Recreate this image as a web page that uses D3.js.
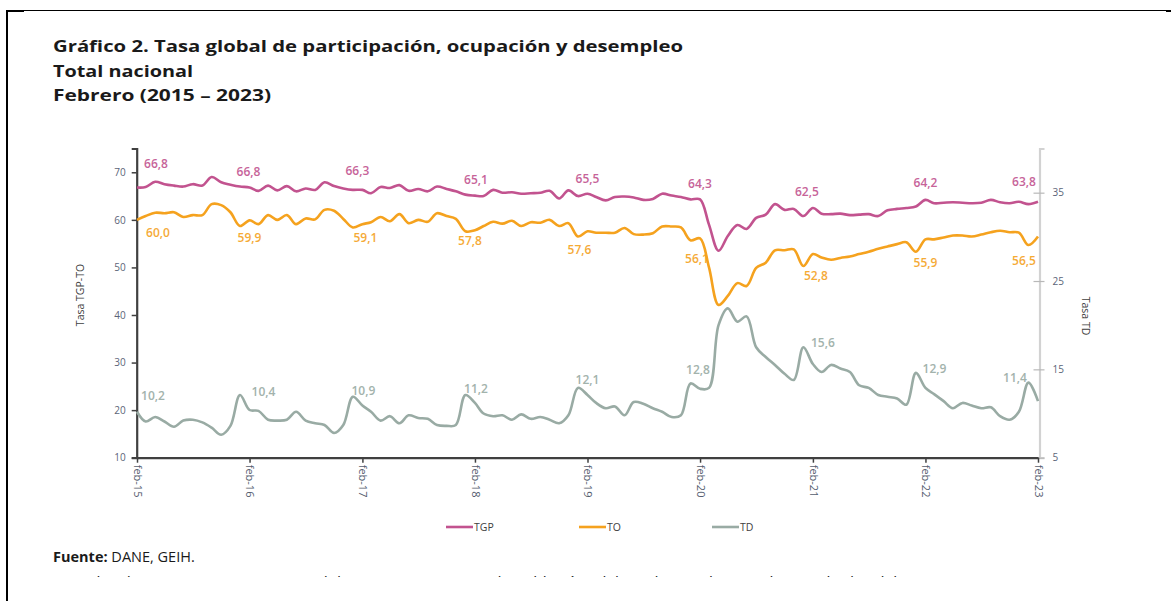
<!DOCTYPE html>
<html>
<head>
<meta charset="utf-8">
<script src="https://cdn.jsdelivr.net/npm/d3@7"></script>
<style>
  body { margin: 0; background: #fff; }
  svg text { font-family: "Open Sans", sans-serif; }
</style>
</head>
<body>
<svg id="chart" width="1171" height="601"></svg>
<script>
// Monthly series, feb-2015 .. feb-2023 (97 months)
const months = d3.timeMonth.range(new Date(2015, 1, 1), new Date(2023, 1, 2));

const tgp = [
  66.8, 66.9, 68.0, 67.5, 67.2, 67.0, 67.5, 67.2, 69.0, 67.9, 67.4, 67.0,
  66.8, 66.1, 67.2, 66.2, 67.1, 66.0, 66.6, 66.3, 67.9, 67.1, 66.6, 66.3,
  66.3, 65.6, 66.9, 66.7, 67.3, 66.1, 66.5, 66.0, 67.0, 66.5, 66.0, 65.3,
  65.1, 65.0, 66.3, 65.7, 65.8, 65.5, 65.6, 65.7, 66.1, 64.5, 66.2, 65.0,
  65.5, 64.8, 64.1, 64.8, 64.9, 64.7, 64.2, 64.4, 65.5, 65.1, 64.8, 64.3,
  64.3, 59.0, 53.5, 56.6, 58.9, 58.1, 60.4, 61.1, 63.3, 62.1, 62.3, 60.8,
  62.5, 61.3, 61.2, 61.3, 61.0, 61.1, 61.2, 60.8, 62.0, 62.3, 62.5, 62.8,
  64.2, 63.5, 63.6, 63.7, 63.6, 63.5, 63.6, 64.2, 63.7, 63.5, 63.8, 63.3,
  63.8
];

const to = [
  60.0, 60.8, 61.5, 61.4, 61.6, 60.6, 61.0, 61.0, 63.3, 63.1, 61.6, 58.7,
  59.9, 59.1, 61.0, 60.0, 61.0, 59.1, 60.3, 60.1, 62.1, 61.9, 60.2, 58.4,
  59.1, 59.5, 60.6, 59.7, 61.2, 59.3, 60.0, 59.6, 61.4, 60.8, 60.2, 57.6,
  57.8, 58.7, 59.6, 59.2, 59.8, 58.7, 59.5, 59.4, 60.0, 58.7, 59.3, 56.5,
  57.6, 57.3, 57.3, 57.3, 58.3, 57.0, 56.9, 57.2, 58.6, 58.6, 58.4, 55.7,
  56.1, 50.0, 42.1, 44.0, 46.7, 46.1, 49.9, 51.0, 53.6, 53.6, 53.8, 50.3,
  52.8, 52.1, 51.6, 52.0, 52.3, 52.8, 53.3, 53.9, 54.4, 54.9, 55.3, 53.3,
  55.9, 55.9, 56.3, 56.7, 56.7, 56.5, 56.9, 57.4, 57.7, 57.4, 57.3, 54.7,
  56.5
];

const td = [
  10.2, 9.1, 9.6, 9.1, 8.5, 9.2, 9.3, 9.0, 8.4, 7.6, 8.6, 12.1,
  10.4, 10.3, 9.3, 9.2, 9.3, 10.2, 9.2, 8.9, 8.7, 7.8, 8.7, 11.9,
  10.9, 10.2, 9.2, 9.7, 8.9, 9.8, 9.5, 9.4, 8.7, 8.6, 8.7, 12.1,
  11.2, 10.0, 9.7, 9.8, 9.3, 9.9, 9.4, 9.6, 9.3, 8.9, 9.8, 12.9,
  12.1, 11.2, 10.6, 10.8, 9.8, 11.3, 11.1, 10.6, 10.2, 9.6, 9.8, 13.4,
  12.8, 12.9, 20.0, 21.9, 20.4, 21.0, 17.5, 16.4, 15.5, 14.5, 13.8, 17.5,
  15.6, 14.7, 15.5, 15.1, 14.7, 13.2, 12.9, 12.1, 11.9, 11.7, 11.0, 14.6,
  12.9, 12.2, 11.4, 10.6, 11.2, 10.9, 10.6, 10.7, 9.7, 9.3, 10.2, 13.5,
  11.4
];

const seriesNames = ["TGP", "TO", "TD"];
const tickLabels = ["feb-15", "feb-16", "feb-17", "feb-18", "feb-19", "feb-20", "feb-21", "feb-22", "feb-23"];
const leftTicks = [10, 20, 30, 40, 50, 60, 70];
const rightTicks = [5, 15, 25, 35];

// layout / style
const colors = { TGP: "#c2538f", TO: "#f5a21e", TD: "#99aba4" };
// label nudges (dx, dy) from the february point, one per year
const nudges = {
  TGP: [[19, -20], [-1, -12], [-5, -15], [1, -12], [0, -11], [0, -11], [-6, -12], [0, -13], [-14, -16]],
  TO:  [[21, 17], [0, 22], [3, 18], [-5, 15], [-8, 23], [-3, 25], [3, 26], [0, 28], [-14, 28]],
  TD:  [[16, -12], [14, -14], [1, -11], [1, -10], [0, -11], [-2, -15], [10, -17], [9, -15], [-23, -19]]
};

const svg = d3.select("#chart");
const W = 1171, H = 601;

// frame
svg.append("line").attr("x1", 7).attr("x2", 7).attr("y1", 10).attr("y2", H).attr("stroke", "#000").attr("stroke-width", 2);
svg.append("line").attr("x1", 6).attr("x2", 1169).attr("y1", 10.5).attr("y2", 10.5).attr("stroke", "#000").attr("stroke-width", 1);
svg.append("rect").attr("x", 6).attr("y", 10).attr("width", 18).attr("height", 2).attr("fill", "#000");
svg.append("rect").attr("x", 1166).attr("y", 10).attr("width", 5).attr("height", 2).attr("fill", "#000");

// titles (widths)
const titles = ["Gráfico 2. Tasa global de participación, ocupación y desempleo", "Total nacional", "Febrero (2015 – 2023)"];
const titleWidths = [630, 140, 218];
svg.selectAll(".title").data(titles).enter().append("text")
  .attr("class", "title")
  .attr("x", 53)
  .attr("y", (d, i) => 52 + i * 24.5)
  .attr("font-size", 16)
  .attr("font-weight", "bold")
  .attr("fill", "#1a1a1a")
  .attr("textLength", (d, i) => titleWidths[i])
  .attr("lengthAdjust", "spacingAndGlyphs")
  .text(d => d);

// scales
const x = d3.scaleTime().domain([months[0], months[months.length - 1]]).range([137, 1038]);
const yL = d3.scaleLinear().domain([10, 75]).range([457.7, 148.5]);
const yR = d3.scaleLinear().domain([5, 40]).range([457.7, 148.5]);

// left axis
const gL = svg.append("g").attr("transform", "translate(136.7,0)")
  .call(d3.axisLeft(yL).tickValues(leftTicks).tickSize(5).tickPadding(6));
gL.select(".domain").attr("stroke", "#404040").attr("stroke-width", 2.2);
gL.selectAll(".tick line").attr("stroke", "#404040").attr("stroke-width", 1.5);
gL.selectAll(".tick text").attr("font-size", 10).attr("fill", "#5b6478").attr("font-family", "Open Sans");

// right axis
const gR = svg.append("g").attr("transform", "translate(1039.5,0)")
  .call(d3.axisRight(yR).tickValues(rightTicks).tickSize(5).tickPadding(8));
gR.select(".domain").attr("stroke", "#d2d2d2").attr("stroke-width", 2.2);
gR.selectAll(".tick line").attr("x1", -6).attr("x2", 5).attr("stroke", "#b8b8b8").attr("stroke-width", 1.2);
gR.selectAll(".tick text").attr("font-size", 10).attr("fill", "#5b6478").attr("font-family", "Open Sans");

// bottom axis
const febDates = months.filter(d => d.getMonth() === 1);
const gB = svg.append("g").attr("transform", "translate(0,457.7)")
  .call(d3.axisBottom(x).tickValues(febDates).tickSize(5).tickSizeOuter(0)
    .tickFormat((d, i) => tickLabels[i]));
gB.select(".domain").attr("stroke", "#404040").attr("stroke-width", 2.2);
gB.selectAll(".tick line").attr("stroke", "#404040").attr("stroke-width", 1.5);
gB.selectAll(".tick text")
  .attr("font-size", 11).attr("fill", "#555d6e").attr("font-family", "Open Sans")
  .attr("text-anchor", "start")
  .attr("transform", "rotate(90)")
  .attr("x", 7).attr("y", 0).attr("dy", "0.35em");

// axis titles
svg.append("text").attr("transform", "translate(84,295) rotate(-90)")
  .attr("text-anchor", "middle").attr("font-size", 10.5).attr("fill", "#404040").text("Tasa TGP-TO");
svg.append("text").attr("transform", "translate(1082,316) rotate(90)")
  .attr("text-anchor", "middle").attr("font-size", 10.5).attr("fill", "#404040").text("Tasa TD");

// lines
const series = [
  { name: "TGP", values: tgp, y: yL },
  { name: "TO", values: to, y: yL },
  { name: "TD", values: td, y: yR }
];

const fmt = v => d3.format(".1f")(v).replace(".", ",");

series.forEach(s => {
  const line = d3.line()
    .x((d, i) => x(months[i]))
    .y(d => s.y(d))
    .curve(d3.curveCatmullRom.alpha(0.5));
  svg.append("path")
    .datum(s.values)
    .attr("fill", "none")
    .attr("stroke", colors[s.name])
    .attr("stroke-width", 2.6)
    .attr("stroke-linejoin", "round")
    .attr("d", line);

  const febIdx = months.map((d, i) => i).filter(i => months[i].getMonth() === 1);
  svg.selectAll(".lbl-" + s.name).data(febIdx).enter().append("text")
    .attr("class", "lbl-" + s.name)
    .attr("x", (i, k) => x(months[i]) + nudges[s.name][k][0])
    .attr("y", (i, k) => s.y(s.values[i]) + nudges[s.name][k][1])
    .attr("text-anchor", "middle")
    .attr("font-size", 12)
    .attr("font-weight", 600)
    .attr("fill", colors[s.name])
    .attr("opacity", 0.9)
    .text(i => fmt(s.values[i]));
});

// legend
const legendX = [446, 579, 712];
const lg = svg.selectAll(".legend").data(seriesNames).enter().append("g")
  .attr("class", "legend")
  .attr("transform", (d, i) => `translate(${legendX[i]},527)`);
lg.append("line").attr("x1", 0).attr("x2", 27).attr("stroke", d => colors[d]).attr("stroke-width", 2.6);
lg.append("text").attr("x", 28).attr("dy", "0.35em").attr("font-size", 10.5).attr("fill", "#404040").text(d => d);

// source
const src = svg.append("text").attr("x", 53).attr("y", 562).attr("font-size", 14.5).attr("fill", "#1a1a1a");
src.append("tspan").attr("font-weight", "bold").text("Fuente:");
src.append("tspan").text(" DANE, GEIH.");

// note line, cut off at the picture's bottom
svg.append("clipPath").attr("id", "noteclip").append("rect").attr("x", 0).attr("y", 0).attr("width", W).attr("height", 577);
svg.append("text").attr("clip-path", "url(#noteclip)")
  .attr("x", 53).attr("y", 586.5).attr("font-size", 14.5).attr("fill", "#1a1a1a")
  .attr("textLength", 932).attr("lengthAdjust", "spacingAndGlyphs")
  .text("Nota: los datos se encuentran expandidos con proyecciones de población, elaboradas con base en los resultados del CNPV 2018.");
</script>
</body>
</html>
